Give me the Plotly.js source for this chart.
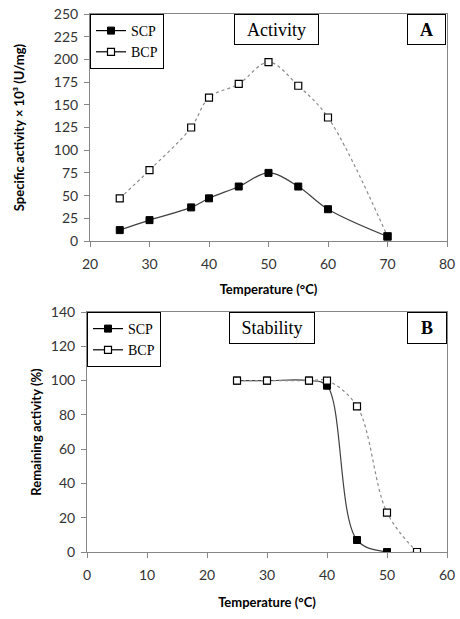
<!DOCTYPE html>
<html>
<head>
<meta charset="utf-8">
<script src="https://cdn.plot.ly/plotly-3.0.1.min.js"></script>
<style>html,body{margin:0;padding:0;background:#fff;} #chart{width:460px;height:619px;}</style>
</head>
<body>
<div id="chart"></div>
<script>
// Panel A: Activity
const tempA = [25, 30, 37, 40, 45, 50, 55, 60, 70];
const scpActivity = [12, 23, 37, 47, 60, 75, 60, 35, 5];
const bcpActivity = [47, 78, 125, 158, 173, 197, 171, 136, 5];

// Panel B: Stability
const tempB = [25, 30, 37, 40, 45, 50, 55];
const scpStability = [100, 100, 100, 97, 7, 0, 0];
const bcpStability = [100, 100, 100, 100, 85, 23, 0];

const seriesNames = ['SCP', 'BCP'];
const xTitle = 'Temperature (°C)';
const yTitleA = 'Specific activity \u00d7 10\u00b3 (U/mg)';
const yTitleB = 'Remaining activity (%)';

const sans = 'Lato, "Open Sans", sans-serif';
const serif = '"Liberation Serif", "DejaVu Serif", serif';
const axisGray = '#868686';

const scpMarker = {symbol: 'square', size: 7, color: '#000', line: {color: '#000', width: 1}};
const bcpMarker = {symbol: 'square', size: 7, color: '#fff', line: {color: '#000', width: 1.2}};

const scpStyle = {
  mode: 'lines+markers', showlegend: false,
  line: {color: '#404040', width: 1.2, shape: 'spline', smoothing: 1},
  marker: scpMarker
};
const bcpStyle = {
  mode: 'lines+markers', showlegend: false,
  line: {color: '#8a8a8a', width: 1.2, dash: 'dot', shape: 'spline', smoothing: 1},
  marker: bcpMarker
};

// legend keys: solid black line with the series marker (as in the original legend)
function legendKey(name, marker, xa, ya, leg, rank) {
  return {x: [null], y: [null], name: name, mode: 'lines+markers', xaxis: xa, yaxis: ya,
          legend: leg, legendrank: rank, showlegend: true, hoverinfo: 'skip',
          line: {color: '#000', width: 1.2}, marker: marker};
}

const traces = [
  // panel A: SCP drawn over BCP
  Object.assign({x: tempA, y: bcpActivity, name: seriesNames[1], xaxis: 'x', yaxis: 'y'}, bcpStyle),
  Object.assign({x: tempA, y: scpActivity, name: seriesNames[0], xaxis: 'x', yaxis: 'y'}, scpStyle),
  // panel B: BCP drawn over SCP
  Object.assign({x: tempB, y: scpStability, name: seriesNames[0], xaxis: 'x2', yaxis: 'y2'}, scpStyle),
  Object.assign({x: tempB, y: bcpStability, name: seriesNames[1], xaxis: 'x2', yaxis: 'y2'}, bcpStyle),
  legendKey(seriesNames[0], scpMarker, 'x', 'y', 'legend', 1),
  legendKey(seriesNames[1], bcpMarker, 'x', 'y', 'legend', 2),
  legendKey(seriesNames[0], scpMarker, 'x2', 'y2', 'legend2', 1),
  legendKey(seriesNames[1], bcpMarker, 'x2', 'y2', 'legend2', 2)
];

function axisBase() {
  return {
    showgrid: false, zeroline: false, showline: true, mirror: true,
    linecolor: axisGray, linewidth: 1, ticks: 'outside', ticklen: 5,
    tickcolor: axisGray, tickwidth: 1,
    tickfont: {family: sans, size: 14, color: '#333'},
    automargin: false, fixedrange: true
  };
}

const legendBase = {
  xanchor: 'left', yanchor: 'top', bgcolor: '#fff',
  bordercolor: '#000', borderwidth: 1,
  font: {family: serif, size: 14, color: '#000'},
  tracegroupgap: 0, traceorder: 'normal'
};

const layout = {
  width: 460, height: 619,
  margin: {l: 0, r: 0, t: 0, b: 0},
  paper_bgcolor: '#fff', plot_bgcolor: '#fff',
  showlegend: true,
  xaxis: Object.assign(axisBase(), {
    domain: [90/460, 447/460], anchor: 'y', range: [20, 80], dtick: 10, tick0: 0,
    ticklabelstandoff: 5,
    title: {text: xTitle, font: {family: sans, size: 13, color: '#000', weight: 'bold'}, standoff: 14}
  }),
  yaxis: Object.assign(axisBase(), {
    domain: [1 - 241/619, 1 - 14/619], anchor: 'x', range: [0, 250], dtick: 25, tick0: 0,
    ticklabelstandoff: 3,
    title: {text: yTitleA, font: {family: sans, size: 13, color: '#000', weight: 'bold'}, standoff: 26}
  }),
  xaxis2: Object.assign(axisBase(), {
    domain: [87/460, 447/460], anchor: 'y2', range: [0, 60], dtick: 10, tick0: 0,
    ticklabelstandoff: 5,
    title: {text: xTitle, font: {family: sans, size: 13, color: '#000', weight: 'bold'}, standoff: 16}
  }),
  yaxis2: Object.assign(axisBase(), {
    domain: [1 - 552/619, 1 - 312/619], anchor: 'x2', range: [0, 140], dtick: 20, tick0: 0,
    ticklabelstandoff: 3,
    title: {text: yTitleB, font: {family: sans, size: 13, color: '#000', weight: 'bold'}, standoff: 6}
  }),
  legend: Object.assign({}, legendBase, {x: 90/460, y: 1 - 14/619}),
  legend2: Object.assign({}, legendBase, {x: 87/460, y: 1 - 312/619}),
  annotations: [
    {text: 'Activity', xref: 'paper', yref: 'paper', x: 276.5/460, y: 1 - 29.5/619,
     xanchor: 'center', yanchor: 'middle', showarrow: false,
     font: {family: serif, size: 18, color: '#000'},
     bordercolor: '#000', borderwidth: 1, bgcolor: '#fff', width: 83, height: 29, borderpad: 0},
    {text: '<b>A</b>', xref: 'paper', yref: 'paper', x: 426.5/460, y: 1 - 29.5/619,
     xanchor: 'center', yanchor: 'middle', showarrow: false,
     font: {family: serif, size: 18, color: '#000'},
     bordercolor: '#000', borderwidth: 1, bgcolor: '#fff', width: 37, height: 29, borderpad: 0},
    {text: 'Stability', xref: 'paper', yref: 'paper', x: 272/460, y: 1 - 328/619,
     xanchor: 'center', yanchor: 'middle', showarrow: false,
     font: {family: serif, size: 18, color: '#000'},
     bordercolor: '#000', borderwidth: 1, bgcolor: '#fff', width: 84, height: 30, borderpad: 0},
    {text: '<b>B</b>', xref: 'paper', yref: 'paper', x: 427/460, y: 1 - 328/619,
     xanchor: 'center', yanchor: 'middle', showarrow: false,
     font: {family: serif, size: 18, color: '#000'},
     bordercolor: '#000', borderwidth: 1, bgcolor: '#fff', width: 38, height: 30, borderpad: 0}
  ]
};

Plotly.newPlot('chart', traces, layout, {displayModeBar: false, staticPlot: true});
</script>
</body>
</html>
